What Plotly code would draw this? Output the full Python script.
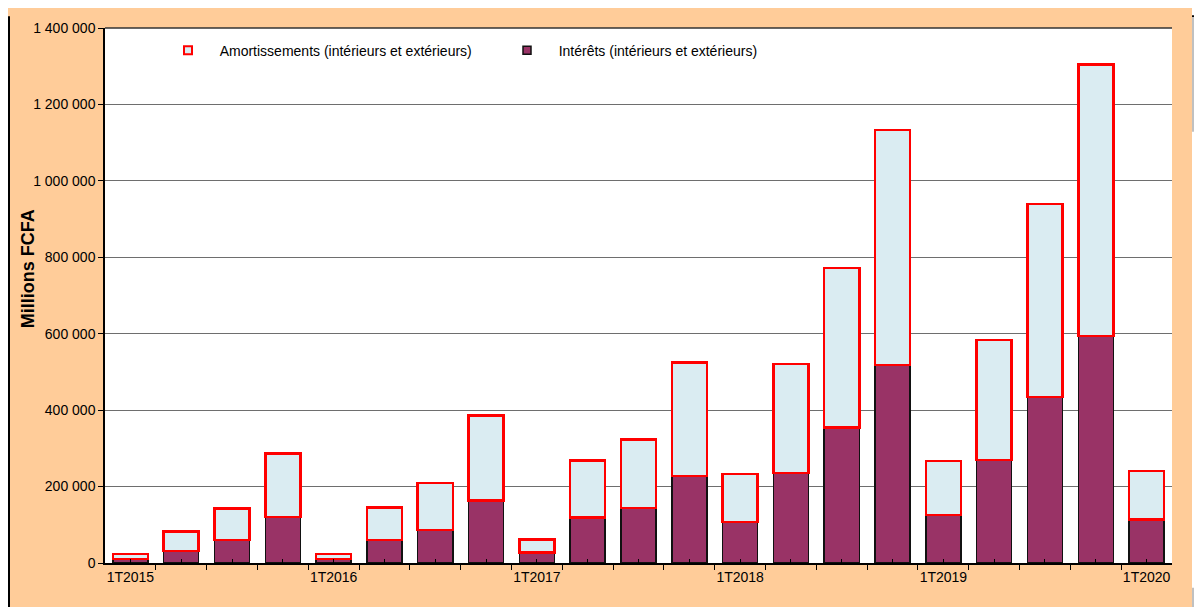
import plotly.graph_objects as go

quarters = ["1T2015", "2T2015", "3T2015", "4T2015",
            "1T2016", "2T2016", "3T2016", "4T2016",
            "1T2017", "2T2017", "3T2017", "4T2017",
            "1T2018", "2T2018", "3T2018", "4T2018",
            "1T2019", "2T2019", "3T2019", "4T2019",
            "1T2020"]
interets = [10000, 32000, 60000, 120000,
            10000, 60000, 87000, 163000,
            28000, 119000, 144000, 228000,
            107000, 235000, 355000, 518000,
            126000, 270000, 435000, 594000,
            114000]
totaux = [23000, 83000, 143000, 286000,
          24000, 145000, 209000, 386000,
          61000, 268000, 323000, 525000,
          233000, 521000, 772000, 1133000,
          267000, 583000, 939000, 1304000,
          241000]
amortissements = [t - i for t, i in zip(totaux, interets)]
y_ticks = [0, 200000, 400000, 600000, 800000, 1000000, 1200000, 1400000]

name_amort = "Amortissements (intérieurs et extérieurs)"
name_int = "Intérêts (intérieurs et extérieurs)"

xpos = list(range(len(quarters)))
ticktext = [q if q.startswith("1T") else "" for q in quarters]

ORANGE = "#FFCC99"
BLUE = "#DAECF2"
PLUM = "#993366"

fig = go.Figure()
fig.add_trace(go.Bar(x=xpos, y=interets, name=name_int, showlegend=False,
                     marker=dict(color=PLUM, line=dict(color="#111111", width=1.5))))
fig.add_trace(go.Bar(x=xpos, y=amortissements, name=name_amort, showlegend=False,
                     marker=dict(color=BLUE, line=dict(color="#FF0000", width=2.5))))
# legend-only entries
pad = "\u00a0\u00a0\u00a0"
fig.add_trace(go.Scatter(x=[None], y=[None], mode="markers", name=pad + name_amort,
                         marker=dict(symbol="square", size=8, color=BLUE,
                                     line=dict(color="#FF0000", width=2))))
fig.add_trace(go.Scatter(x=[None], y=[None], mode="markers", name=pad + name_int,
                         marker=dict(symbol="square", size=8, color=PLUM,
                                     line=dict(color="#111111", width=1.5))))

# page body margin offsets the figure by 8px
OFF = 8
W, H = 1202 - OFF, 607 - OFF
L, T = 105 - OFF, 22 - OFF
R = W - (1172 - OFF)
B = H - (563 - OFF)
PW, PH = W - L - R, H - T - B


def px(p):
    return (p - OFF - L) / PW


def py(p):
    return (H - B - (p - OFF)) / PH


shapes = []


def rect(x0, y0, x1, y1, color):
    shapes.append(dict(type="rect", xref="paper", yref="paper",
                       x0=px(x0), x1=px(x1), y0=py(y1), y1=py(y0),
                       fillcolor=color, line=dict(width=0), layer="above"))


rect(1192, 0, 1210, 620, "white")
rect(8, 10, 10, 620, "black")
rect(1192, 9, 1210, 11, "black")
rect(1192, 11, 1210, 127, "#C0C0C0")
rect(1192, 588, 1210, 620, "#C0C0C0")
# top border of plot area
shapes.append(dict(type="line", xref="paper", yref="paper", x0=0, x1=1, y0=1, y1=1,
                   line=dict(color="#333333", width=1.5), layer="above"))

fig.update_layout(
    width=W, height=H,
    margin=dict(l=L, r=R, t=T, b=B),
    paper_bgcolor=ORANGE,
    plot_bgcolor="white",
    barmode="stack",
    bargap=0.31,
    separators=", ",
    font=dict(family="Arial, Liberation Sans, sans-serif", size=14, color="black"),
    showlegend=True,
    legend=dict(orientation="h", x=px(168), y=py(45), xanchor="left", yanchor="middle",
                bgcolor="rgba(0,0,0,0)", font=dict(size=14),
                entrywidth=294, entrywidthmode="pixels", traceorder="normal"),
    shapes=shapes,
    annotations=[dict(text="<b>Millions FCFA</b>", xref="paper", yref="paper",
                      x=px(28), y=py(266), textangle=-90, showarrow=False,
                      font=dict(size=18), xanchor="center", yanchor="middle")],
    xaxis=dict(range=[-0.5, len(quarters) - 0.5], tickmode="array",
               tickvals=xpos, ticktext=ticktext,
               ticks="inside", ticklen=4, tickcolor="black", tickwidth=1,
               minor=dict(tick0=-0.5, dtick=1, ticks="outside", ticklen=5,
                          tickcolor="black", tickwidth=1, showgrid=False),
               showline=True, linecolor="black", linewidth=1.5,
               showgrid=False, zeroline=False, tickfont=dict(size=14)),
    yaxis=dict(range=[0, 1400000], tickmode="array", tickvals=y_ticks,
               tickformat=",d", ticks="outside", ticklen=5, tickcolor="black",
               showline=True, linecolor="black", linewidth=1.5,
               showgrid=True, gridcolor="#6E6E6E", gridwidth=1,
               zeroline=False, tickfont=dict(size=14)),
)

fig.write_html("out.html",
               post_script="document.documentElement.style.overflow='hidden';"
                           "document.body.style.overflow='hidden';")
